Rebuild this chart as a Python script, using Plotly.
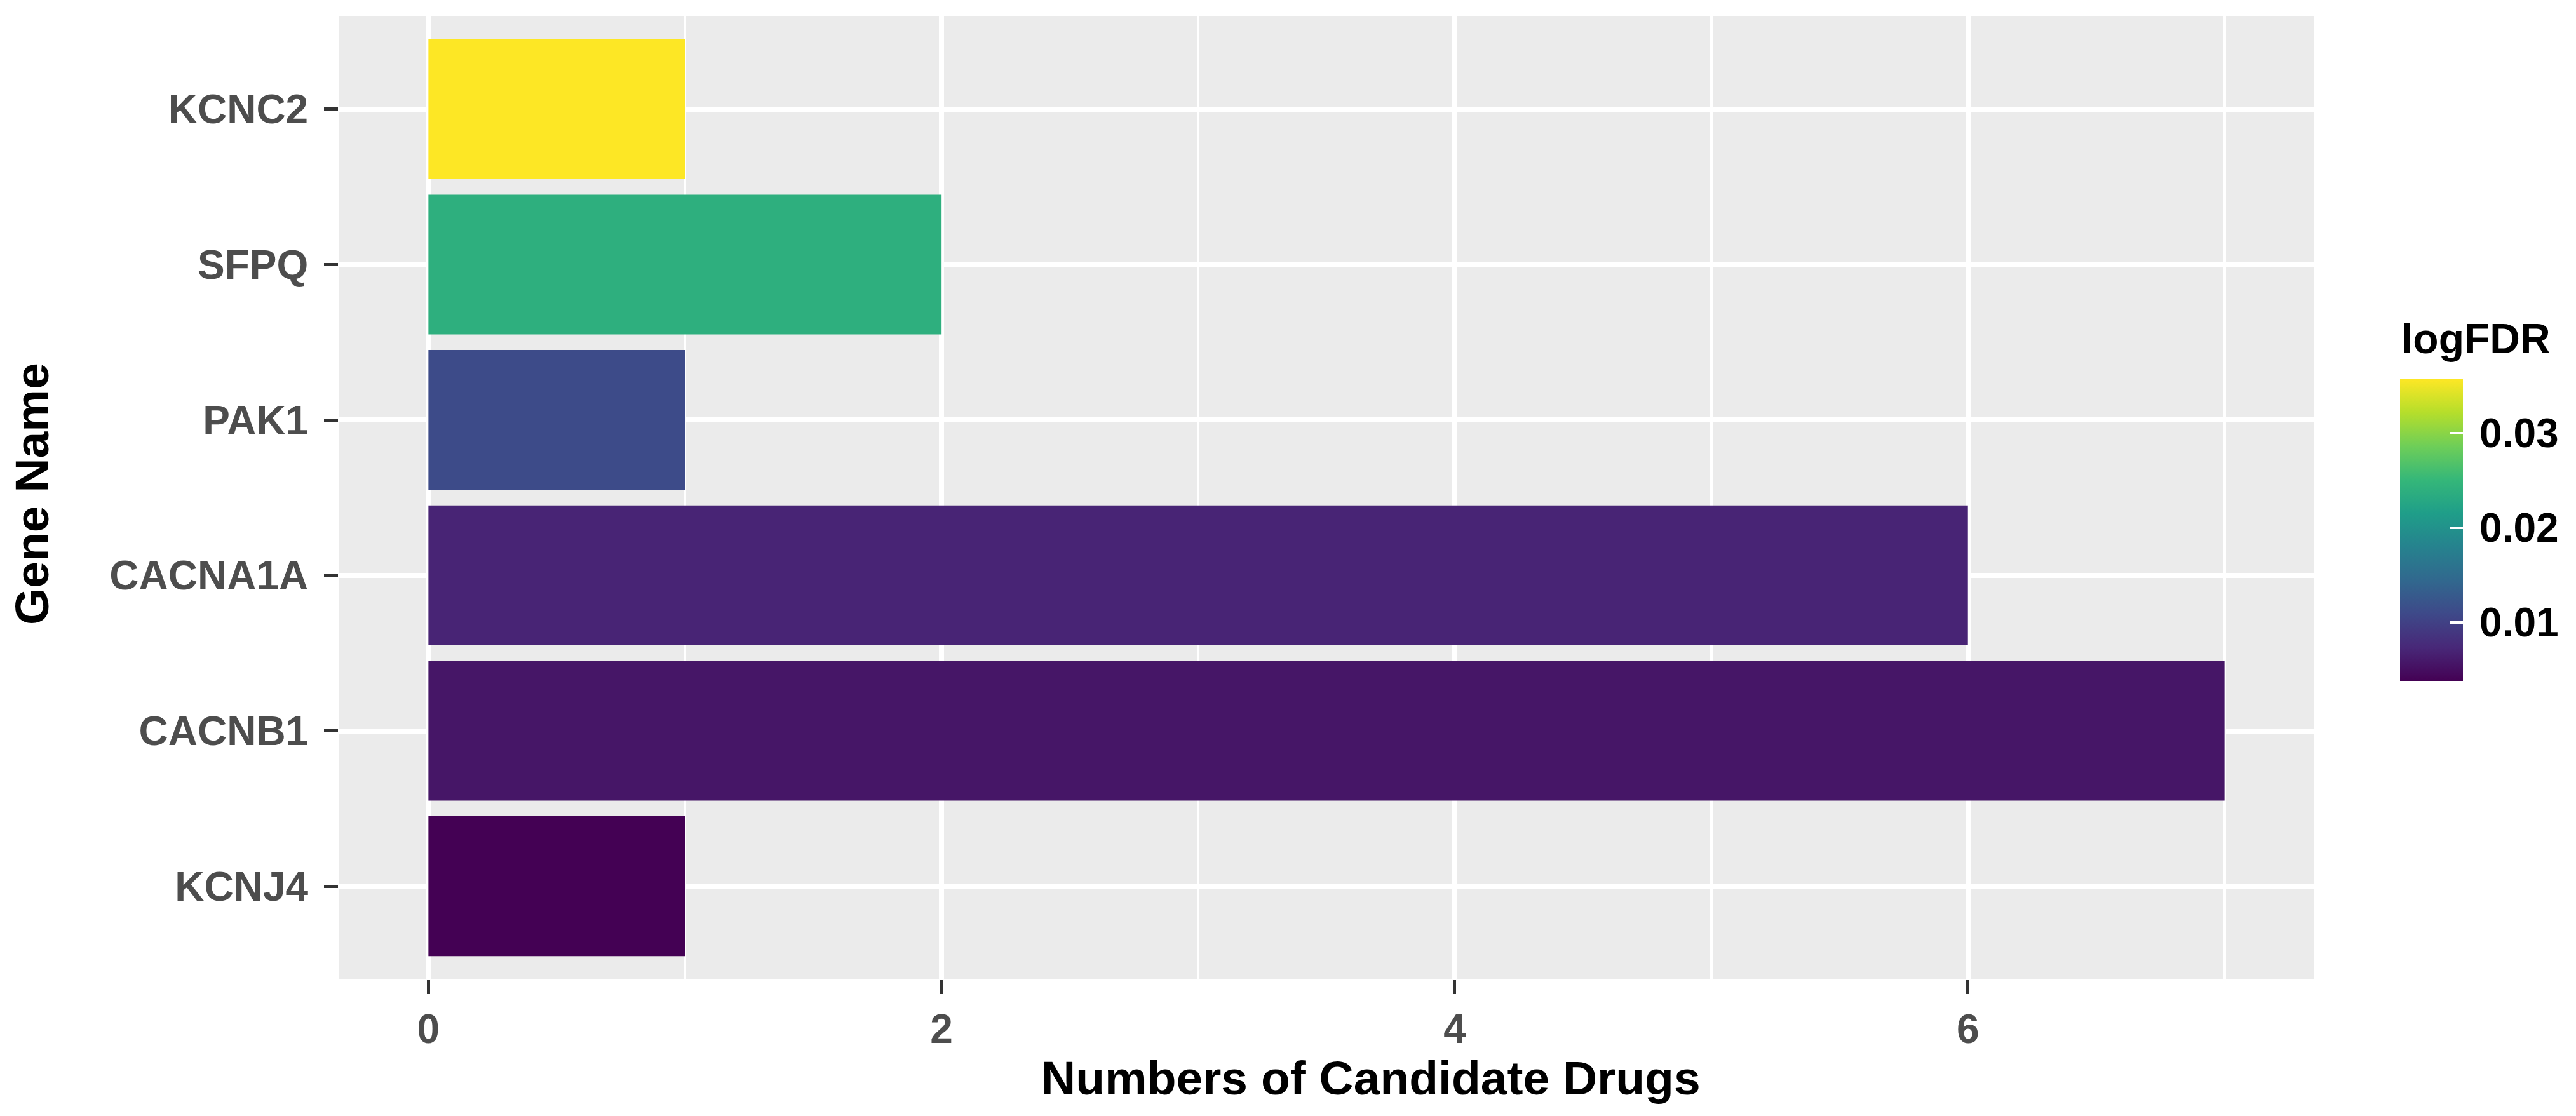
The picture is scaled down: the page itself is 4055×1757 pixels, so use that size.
import plotly.graph_objects as go

# ---- data ----
genes = ["KCNJ4", "CACNB1", "CACNA1A", "PAK1", "SFPQ", "KCNC2"]
drug_counts = [1, 7, 6, 1, 2, 1]
log_fdr = [0.0038, 0.0057, 0.0070, 0.0111, 0.0239, 0.0357]
x_ticks = [0, 2, 4, 6]
cbar_ticks = [0.01, 0.02, 0.03]
cbar_labels = ["0.01", "0.02", "0.03"]

W, H = 4055, 1757
L, R, T, B = 533, 412, 25, 215
pw, ph = W - L - R, H - T - B

def px_x(p):
    return (p - L) / pw

def px_y(p):
    return (H - B - p) / ph

FONT = "Liberation Sans, Arial, sans-serif"

fig = go.Figure(
    go.Bar(
        x=drug_counts,
        y=genes,
        orientation="h",
        width=0.9,
        marker=dict(
            color=log_fdr,
            colorscale="Viridis",
            line=dict(width=0),
            showscale=True,
            colorbar=dict(
                thickness=99,
                thicknessmode="pixels",
                len=475,
                lenmode="pixels",
                x=px_x(3778),
                xanchor="left",
                y=px_y((597 + 1072) / 2),
                yanchor="middle",
                xpad=0,
                ypad=0,
                outlinewidth=0,
                tickvals=cbar_ticks,
                ticktext=["\u2009" + t for t in cbar_labels],
                ticks="inside",
                ticklen=20,
                tickwidth=4,
                tickcolor="white",
                tickfont=dict(family=FONT, size=64, color="black", weight="bold"),
            ),
        ),
        showlegend=False,
    )
)

fig.update_layout(
    template="none",
    width=W,
    height=H,
    autosize=False,
    margin=dict(l=L, r=R, t=T, b=B, autoexpand=False, pad=0),
    paper_bgcolor="white",
    plot_bgcolor="#EBEBEB",
    bargap=0.1,
    font=dict(family=FONT),
    xaxis=dict(
        range=[-0.35, 7.35],
        tickvals=x_ticks,
        ticktext=[str(v) for v in x_ticks],
        showgrid=True,
        gridcolor="white",
        gridwidth=8,
        zeroline=False,
        showline=False,
        ticks="outside",
        ticklen=22,
        tickwidth=5,
        tickcolor="#333333",
        tickfont=dict(family=FONT, size=64, color="#4D4D4D", weight="bold"),
        minor=dict(dtick=1, tick0=0, showgrid=True, gridcolor="white", gridwidth=4, ticks=""),
        automargin=False,
        fixedrange=True,
    ),
    yaxis=dict(
        type="category",
        categoryorder="array",
        categoryarray=genes,
        range=[-0.6, len(genes) - 0.4],
        showgrid=True,
        gridcolor="white",
        gridwidth=8,
        zeroline=False,
        showline=False,
        ticks="outside",
        ticklen=22,
        tickwidth=5,
        tickcolor="#333333",
        ticklabelstandoff=12,
        tickfont=dict(family=FONT, size=64, color="#4D4D4D", weight="bold"),
        automargin=False,
        fixedrange=True,
    ),
    annotations=[
        dict(
            text="Numbers of Candidate Drugs",
            xref="paper", yref="paper",
            x=px_x(2158), y=px_y(1697),
            xanchor="center", yanchor="middle",
            showarrow=False,
            font=dict(family=FONT, size=75, color="black", weight="bold"),
        ),
        dict(
            text="Gene Name",
            xref="paper", yref="paper",
            x=px_x(50), y=px_y(778),
            xanchor="center", yanchor="middle",
            textangle=-90,
            showarrow=False,
            font=dict(family=FONT, size=75, color="black", weight="bold"),
        ),
        dict(
            text="logFDR",
            xref="paper", yref="paper",
            x=px_x(3778), y=px_y(533),
            xanchor="left", yanchor="middle",
            showarrow=False,
            font=dict(family=FONT, size=66, color="black", weight="bold"),
        ),
    ],
)

fig.write_html(
    "out.html",
    config={"displayModeBar": False},
    post_script="document.body.style.margin='0';document.body.style.overflow='hidden';",
)
